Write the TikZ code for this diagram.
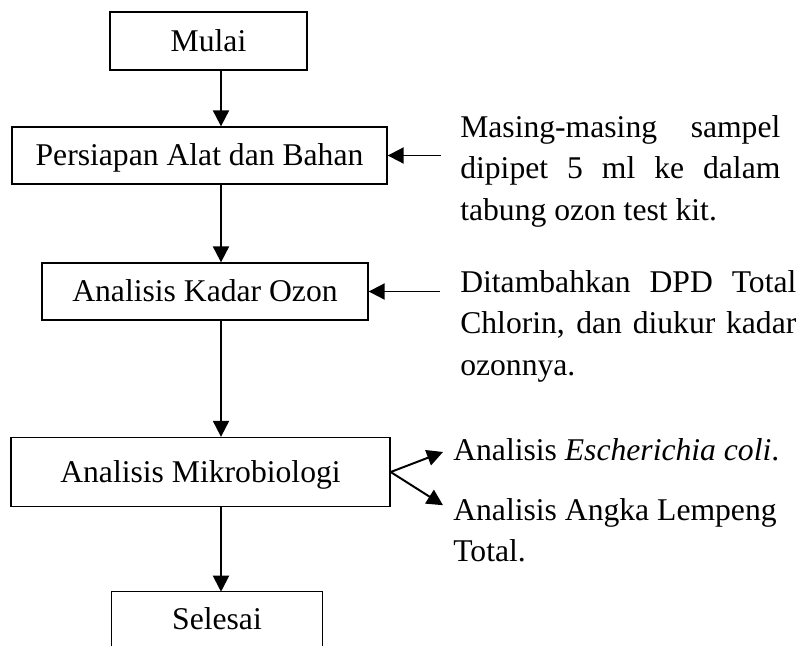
\documentclass[tikz,border=0pt]{standalone}
\usepackage{fontspec}
\setmainfont{Liberation Serif}
\usetikzlibrary{arrows.meta}
\hyphenpenalty=10000
\exhyphenpenalty=10000

\tikzset{
  kotak/.style={draw, line width=0.9pt, inner sep=0pt, text height=14.85pt, text depth=0pt},
  kotakbuka/.style={inner sep=0pt, text height=14.85pt, text depth=0pt},
  panah/.style={line width=1.4pt, -{Triangle[length=11.4pt, width=11.4pt]}},
  ket/.style={inner sep=0pt, align=justify, anchor=north west},
}

\begin{document}
\begin{tikzpicture}[x=0.025cm, y=-0.025cm, font=\fontsize{22.5}{29.5}\selectfont]
    \useasboundingbox (0,0) rectangle (800,646);
    \coordinate (spine) at (221,0);
    \node[kotak, minimum width=4.925cm, minimum height=1.45cm] (mulai) at (208.5,41) {Mulai};
    \node[kotak, minimum width=9.375cm, minimum height=1.425cm] (persiapan) at (199.5,155.5) {Persiapan Alat dan Bahan};
    \node[kotak, minimum width=8.15cm, minimum height=1.425cm] (ozon) at (205,291.5) {Analisis Kadar Ozon};
    \node[kotak, minimum width=9.475cm, minimum height=1.725cm] (mikro) at (200.5,472) {Analisis Mikrobiologi};
    \node[kotakbuka, minimum width=5.25cm, minimum height=1.35cm] (selesai) at (217,619) {Selesai};
    \draw[line width=0.9pt] (selesai.south west) -- (selesai.north west) -- (selesai.north east) -- (selesai.south east);

    \node[ket, text width=8cm] (ket1) at (460,115) {Masing-masing sampel dipipet 5 ml ke dalam tabung ozon test kit.};
    \node[ket, text width=8.4cm] (ket2) at (460,270) {Ditambahkan DPD Total Chlorin, dan diukur kadar ozonnya.};
    \node[anchor=base west, inner sep=0pt] (ecoli) at (453,460) {Analisis \textit{Escherichia coli}.};
    \node[anchor=north west, inner sep=0pt, align=left] (alt) at (453,498) {Analisis Angka Lempeng\\Total.};

    \draw[panah] (mulai.south -| spine) -- (persiapan.north -| spine);
    \draw[panah] (persiapan.south -| spine) -- (ozon.north -| spine);
    \draw[panah] (ozon.south -| spine) -- (mikro.north -| spine);
    \draw[panah] (mikro.south -| spine) -- (selesai.north -| spine);
    \draw[panah] ([xshift=-0.475cm]persiapan.east -| ket1.west) -- (persiapan.east);
    \draw[panah] ([xshift=-0.5cm]ozon.east -| ket2.west) -- (ozon.east);
    \draw[panah] (mikro.east) -- ([xshift=-0.25cm, yshift=0.12cm]ecoli.mid west);
    \draw[panah] (mikro.east) -- ([xshift=-0.25cm, yshift=-0.18cm]alt.north west);
\end{tikzpicture}
\end{document}
